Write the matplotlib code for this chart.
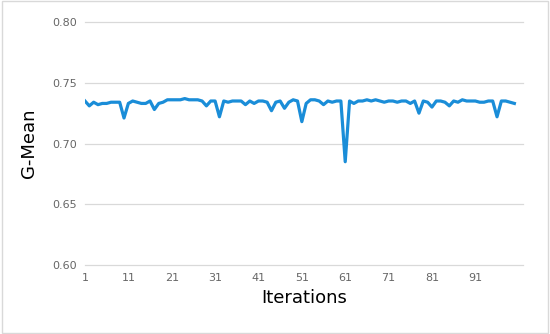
import matplotlib.pyplot as plt
import numpy as np
from matplotlib.patches import Rectangle

# G-Mean per iteration
gmean = [
    0.735, 0.731, 0.734, 0.732, 0.733, 0.733, 0.734, 0.734, 0.734, 0.721,
    0.733, 0.735, 0.734, 0.733, 0.733, 0.735, 0.728, 0.733, 0.734, 0.736,
    0.736, 0.736, 0.736, 0.737, 0.736, 0.736, 0.736, 0.735, 0.731, 0.735,
    0.735, 0.722, 0.735, 0.734, 0.735, 0.735, 0.735, 0.732, 0.735, 0.733,
    0.735, 0.735, 0.734, 0.727, 0.734, 0.735, 0.729, 0.734, 0.736, 0.735,
    0.718, 0.733, 0.736, 0.736, 0.735, 0.732, 0.735, 0.734, 0.735, 0.735,
    0.685, 0.735, 0.733, 0.735, 0.735, 0.736, 0.735, 0.736, 0.735, 0.734,
    0.735, 0.735, 0.734, 0.735, 0.735, 0.733, 0.735, 0.725, 0.735, 0.734,
    0.730, 0.735, 0.735, 0.734, 0.731, 0.735, 0.734, 0.736, 0.735, 0.735,
    0.735, 0.734, 0.734, 0.735, 0.735, 0.722, 0.735, 0.735, 0.734, 0.733,
]
iterations = np.arange(1, len(gmean) + 1)
x_ticks = [1, 11, 21, 31, 41, 51, 61, 71, 81, 91]
y_ticks = [0.60, 0.65, 0.70, 0.75, 0.80]

fig = plt.figure(figsize=(5.5, 3.34), dpi=100)
ax = fig.add_axes([0.1545, 0.2066, 0.7965, 0.7274])

ax.plot(iterations, gmean, color='#1a8dd8', linewidth=2.3, solid_joinstyle='round')

ax.set_xlim(1, 102)
ax.set_ylim(0.60, 0.80)
ax.set_xticks(x_ticks)
ax.set_yticks(y_ticks)
ax.set_yticklabels([f'{v:.2f}' for v in y_ticks])
ax.tick_params(length=0, labelsize=8, labelcolor='#666666', pad=6)
ax.grid(axis='y', color='#d9d9d9', linewidth=0.9)
for g in ax.get_ygridlines():
    g.set_clip_on(False)
ax.set_axisbelow(True)
for s in ax.spines.values():
    s.set_visible(False)

ax.set_xlabel('Iterations', fontsize=13, labelpad=4)
ax.set_ylabel('G-Mean', fontsize=13, labelpad=10)

# chart area border
fig.patches.append(Rectangle((0.004, 0.004), 0.992, 0.992, transform=fig.transFigure,
                             fill=False, edgecolor='#d9d9d9', linewidth=1))

fig.savefig('out.png', dpi=100)
